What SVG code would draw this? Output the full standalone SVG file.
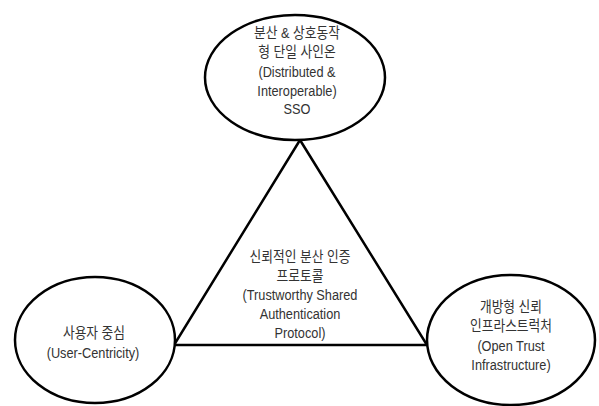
<svg xmlns="http://www.w3.org/2000/svg" width="599" height="406" viewBox="0 0 599 406">
<style>
.n{fill:#fff;stroke:#000;stroke-width:2.5}
.t{font-family:"Liberation Sans","Noto Sans CJK KR",sans-serif;font-size:15px;fill:#333;text-anchor:middle}
.e{stroke:#000;stroke-width:2.5;fill:none;stroke-linejoin:miter}
</style>
<rect width="599" height="406" fill="#fff"/>
<g id="connectors">
<polygon class="e" points="300,140 174,345 427,345"/>
</g>
<g id="center-label">
<text class="t" transform="translate(300,262) scale(0.85,1)">신뢰적인 분산 인증</text>
<text class="t" transform="translate(300,281) scale(0.85,1)">프로토콜</text>
<text class="t" transform="translate(300,300) scale(0.85,1)">(Trustworthy Shared</text>
<text class="t" transform="translate(300,319) scale(0.85,1)">Authentication</text>
<text class="t" transform="translate(300,338) scale(0.85,1)">Protocol)</text>
</g>
<g id="node-sso">
<ellipse class="n" cx="295" cy="77.5" rx="90" ry="62.5"/>
<text class="t" transform="translate(297,38) scale(0.85,1)">분산 &amp; 상호동작</text>
<text class="t" transform="translate(297,57) scale(0.85,1)">형 단일 사인온</text>
<text class="t" transform="translate(297,77) scale(0.85,1)">(Distributed &amp;</text>
<text class="t" transform="translate(297,96) scale(0.85,1)">Interoperable)</text>
<text class="t" transform="translate(297,114) scale(0.85,1)">SSO</text>
</g>
<g id="node-user">
<ellipse class="n" cx="95" cy="340" rx="80" ry="63"/>
<text class="t" transform="translate(94,338) scale(0.85,1)">사용자 중심</text>
<text class="t" transform="translate(93,358) scale(0.85,1)">(User-Centricity)</text>
</g>
<g id="node-trust">
<ellipse class="n" cx="511" cy="340" rx="84" ry="65"/>
<text class="t" transform="translate(511,312) scale(0.85,1)">개방형 신뢰</text>
<text class="t" transform="translate(511,331) scale(0.85,1)">인프라스트럭처</text>
<text class="t" transform="translate(511,351) scale(0.85,1)">(Open Trust</text>
<text class="t" transform="translate(511,370) scale(0.85,1)">Infrastructure)</text>
</g>
</svg>
